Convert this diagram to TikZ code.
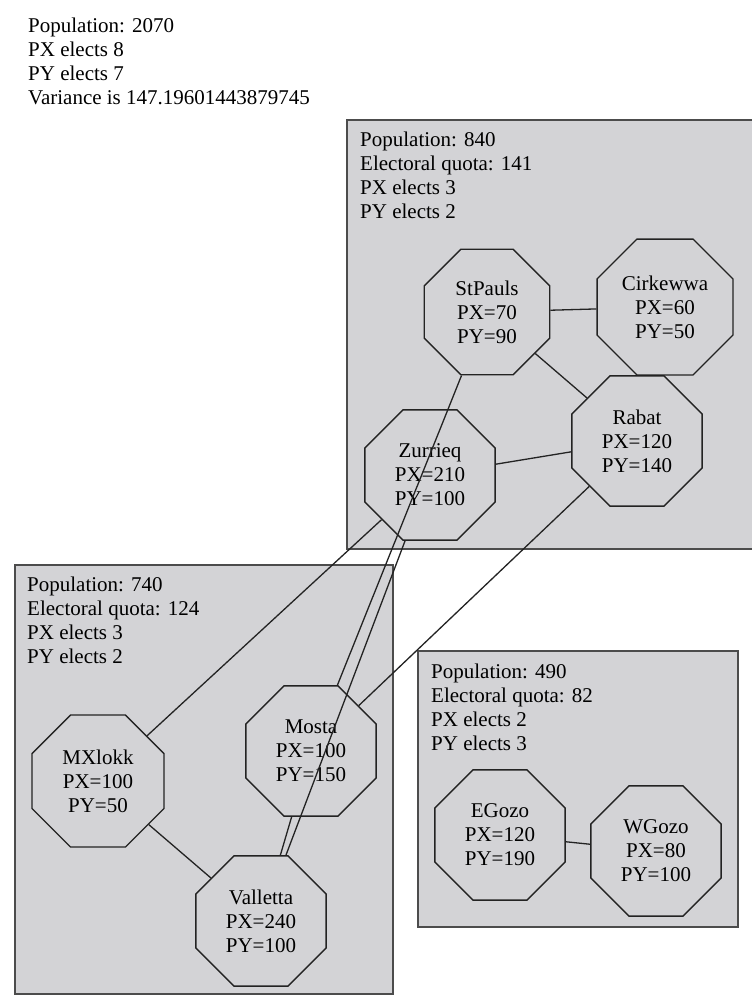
\documentclass[tikz,border=0pt]{standalone}
\usepackage{fontspec}
\setmainfont{Liberation Serif}
\usetikzlibrary{shapes.geometric}
\definecolor{regiongray}{RGB}{211,211,214}
\definecolor{linegray}{RGB}{35,35,35}

\begin{document}
\begin{tikzpicture}[
        x=1pt, y=-1pt,
        every node/.style={font=\fontsize{21}{24}\selectfont},
        region/.style={draw=black!70, line width=1.8pt, fill=regiongray},
        info/.style={anchor=north west, align=left, inner sep=0pt},
        town/.style={regular polygon, regular polygon sides=8, draw=linegray, line width=1.3pt,
            minimum size=141pt, inner sep=0pt, align=center},
        link/.style={draw=linegray, line width=1.3pt}
    ]
    \useasboundingbox (0,0) rectangle (752,997);
    \fill[white] (0,0) rectangle (752,997);

    % the three regions
    \filldraw[region] (347,120) rectangle (756,549);
    \filldraw[region] (15,565) rectangle (393,994);
    \filldraw[region] (418,651) rectangle (738,927);

    \node[info] (total) at (28,18) {Population: 2070\\PX elects 8\\PY elects 7\\Variance is 147.19601443879745};
    \node[info] (northinfo) at (360,132) {Population: 840\\Electoral quota: 141\\PX elects 3\\PY elects 2};
    \node[info] (southinfo) at (27,577) {Population: 740\\Electoral quota: 124\\PX elects 3\\PY elects 2};
    \node[info] (gozoinfo) at (431,664) {Population: 490\\Electoral quota: 82\\PX elects 2\\PY elects 3};

    % towns
    \node[town, minimum size=136pt] (stpauls) at (487,312) {StPauls\\PX=70\\PY=90};
    \node[town, minimum size=147pt] (cirkewwa) at (665,307) {Cirkewwa\\PX=60\\PY=50};
    \node[town] (rabat) at (637,441) {Rabat\\PX=120\\PY=140};
    \node[town] (zurrieq) at (430,475) {Zurrieq\\PX=210\\PY=100};
    \node[town, minimum size=143pt] (mxlokk) at (98,781) {MXlokk\\PX=100\\PY=50};
    \node[town] (mosta) at (311,751) {Mosta\\PX=100\\PY=150};
    \node[town] (valletta) at (261,921) {Valletta\\PX=240\\PY=100};
    \node[town] (egozo) at (500,835) {EGozo\\PX=120\\PY=190};
    \node[town] (wgozo) at (656,851) {WGozo\\PX=80\\PY=100};

    % links
    \draw[link] (stpauls) -- (cirkewwa);
    \draw[link] (stpauls) -- (rabat);
    \draw[link] (zurrieq) -- (rabat);
    \draw[link] (stpauls) -- (mosta);
    \draw[link] (zurrieq) -- (valletta);
    \draw[link] (zurrieq) -- (mxlokk);
    \draw[link] (rabat) -- (mosta);
    \draw[link] (mosta) -- (valletta);
    \draw[link] (mxlokk) -- (valletta);
    \draw[link] (egozo) -- (wgozo);
\end{tikzpicture}
\end{document}
